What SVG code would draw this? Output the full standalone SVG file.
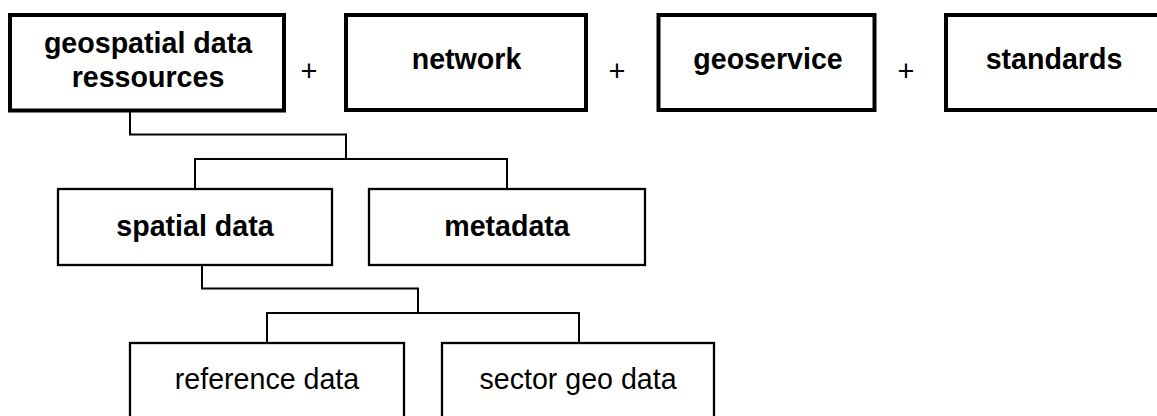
<svg xmlns="http://www.w3.org/2000/svg" width="1157" height="416" viewBox="0 0 1157 416">
  <style>
    .top { fill: #fff; stroke: #000; stroke-width: 4; }
    .box { fill: #fff; stroke: #000; stroke-width: 2.3; }
    .lbl { font-family: "Liberation Sans", Arial, sans-serif; font-size: 28.6px; fill: #000; text-anchor: middle; }
    .b { font-weight: bold; }
    .plus { font-family: "Liberation Sans", Arial, sans-serif; font-size: 29px; fill: #000; text-anchor: middle; }
    .con { fill: none; stroke: #000; stroke-width: 2; }
  </style>
  <rect width="1157" height="416" fill="#fff"/>
  <g id="connectors">
    <polyline class="con" points="130,111 130,134.5 346,134.5 346,159"/>
    <polyline class="con" points="195,189 195,159 507,159 507,189"/>
    <polyline class="con" points="202,265 202,288.5 418,288.5 418,313"/>
    <polyline class="con" points="267,343 267,313 579,313 579,343"/>
  </g>
  <g id="geospatial">
    <rect class="top" x="10" y="15" width="274" height="95.5"/>
    <text class="lbl b" x="148" y="53">geospatial data</text>
    <text class="lbl b" x="148" y="87">ressources</text>
  </g>
  <g id="plus1"><text class="plus" x="309" y="81">+</text></g>
  <g id="network">
    <rect class="top" x="346" y="15" width="240" height="95"/>
    <text class="lbl b" x="466.5" y="69">network</text>
  </g>
  <g id="plus2"><text class="plus" x="617" y="81">+</text></g>
  <g id="geoservice">
    <rect class="top" x="658.5" y="15" width="216" height="95"/>
    <text class="lbl b" x="768" y="69">geoservice</text>
  </g>
  <g id="plus3"><text class="plus" x="906" y="81">+</text></g>
  <g id="standards">
    <rect class="top" x="946" y="15" width="216" height="95"/>
    <text class="lbl b" x="1054" y="69">standards</text>
  </g>
  <g id="spatial">
    <rect class="box" x="58" y="189" width="274" height="76"/>
    <text class="lbl b" x="195" y="236">spatial data</text>
  </g>
  <g id="metadata">
    <rect class="box" x="369" y="189" width="276" height="76"/>
    <text class="lbl b" x="507" y="236">metadata</text>
  </g>
  <g id="reference">
    <rect class="box" x="130" y="343" width="274" height="100"/>
    <text class="lbl" x="267" y="389">reference data</text>
  </g>
  <g id="sector">
    <rect class="box" x="442" y="343" width="272" height="100"/>
    <text class="lbl" x="578" y="389">sector geo data</text>
  </g>
</svg>
